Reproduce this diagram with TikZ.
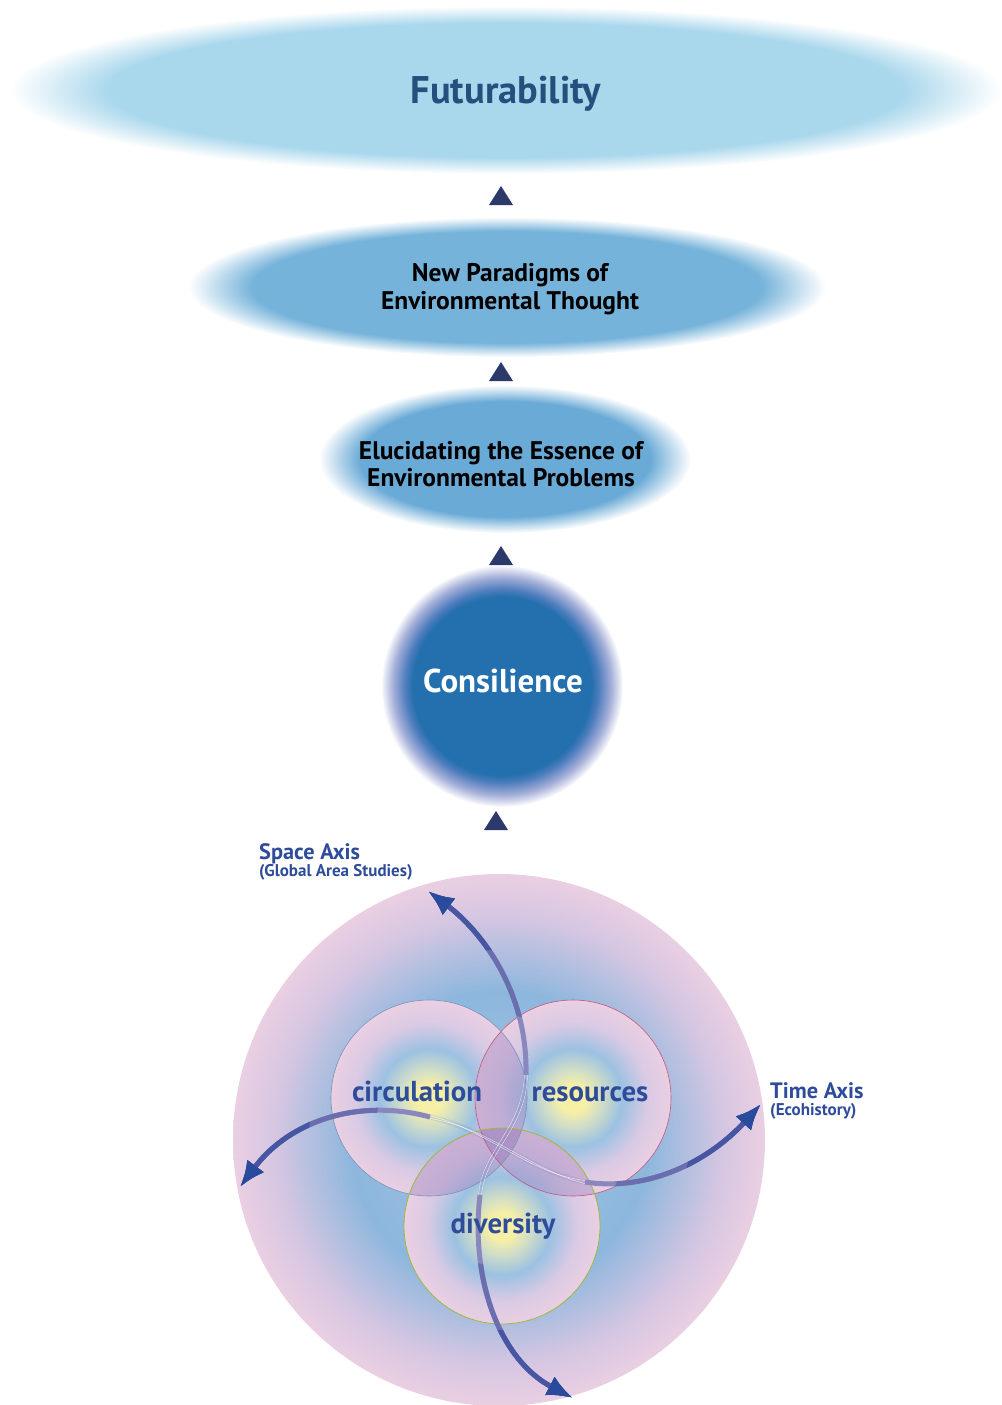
\documentclass[tikz,border=0pt]{standalone}
\usepackage{fontspec}
\setmainfont{PT Sans}
\usetikzlibrary{arrows.meta}
\definecolor{futc}{HTML}{A9D7EC}
\definecolor{futt}{HTML}{25507D}
\definecolor{parc}{HTML}{76B3DA}
\definecolor{eluc}{HTML}{6AAAD6}
\definecolor{conc}{HTML}{2470AE}
\definecolor{conedge0}{HTML}{4F7DBD}
\definecolor{conedge}{HTML}{A3AED8}
\definecolor{conedge2}{HTML}{E4E6F3}
\definecolor{triac}{HTML}{2B3A6B}
\definecolor{pinkc}{HTML}{EACFE2}
\definecolor{pinkmid}{HTML}{D5C6E2}
\definecolor{bluec}{HTML}{8DB7DD}
\definecolor{bigcen}{HTML}{A6C3E3}
\definecolor{yelc}{HTML}{F6EFA6}
\definecolor{yelmid}{HTML}{CFDDC8}
\definecolor{sblue}{HTML}{9CC1E2}
\definecolor{spink}{HTML}{D9CAE4}
\definecolor{lensc}{HTML}{A48AC2}
\definecolor{labc}{HTML}{2E4C9A}
\definecolor{armin}{HTML}{8A86BE}
\definecolor{armc}{HTML}{6A6DAE}
\definecolor{armout}{HTML}{4756A3}
\definecolor{tipc}{HTML}{2A4B9B}
\definecolor{cirl}{HTML}{7C93B8}
\definecolor{resl}{HTML}{C0587E}
\definecolor{divl}{HTML}{9DBA3A}
\pgfdeclareradialshading{futsh}{\pgfpoint{0bp}{0bp}}{color(0bp)=(futc); color(20bp)=(futc); color(25bp)=(white); color(50bp)=(white)}
\pgfdeclareradialshading{parsh}{\pgfpoint{0bp}{0bp}}{color(0bp)=(parc); color(20bp)=(parc); color(25bp)=(white); color(50bp)=(white)}
\pgfdeclareradialshading{elush}{\pgfpoint{0bp}{0bp}}{color(0bp)=(eluc); color(19.5bp)=(eluc); color(25bp)=(white); color(50bp)=(white)}
\pgfdeclareradialshading{consh}{\pgfpoint{0bp}{0bp}}{color(0bp)=(conc); color(18.5bp)=(conc); color(20bp)=(conedge0); color(22.5bp)=(conedge); color(24.3bp)=(conedge2); color(25bp)=(white); color(50bp)=(white)}
\pgfdeclareradialshading{bigsh}{\pgfpoint{0bp}{0bp}}{color(0bp)=(bigcen); color(14bp)=(bluec); color(21bp)=(pinkmid); color(25bp)=(pinkc); color(50bp)=(pinkc)}
\pgfdeclareradialshading{smallsh}{\pgfpoint{0bp}{0bp}}{color(0bp)=(yelc); color(3.5bp)=(yelc); color(7.5bp)=(yelmid); color(12.5bp)=(sblue); color(19bp)=(spink); color(25bp)=(pinkc); color(50bp)=(pinkc)}
\tikzset{
  tri/.style={fill=triac},
  blacktext/.style={text=black, font=\bfseries\fontsize{25.5}{28}\selectfont, align=center, inner sep=0pt},
  circtext/.style={text=labc, font=\bfseries\fontsize{28.8}{30}\selectfont, inner sep=0pt, anchor=base},
  axisbig/.style={text=labc, font=\bfseries\fontsize{22.3}{24}\selectfont, inner sep=0pt, anchor=base west},
  axissmall/.style={text=labc, font=\bfseries\fontsize{17}{19}\selectfont, inner sep=0pt, anchor=base west},
  arm/.style={line width=5pt, -{Latex[length=26pt,width=21pt,color=tipc]}},
  faint/.style={draw=white, line width=0.5pt, opacity=0.7},
  faintbg/.style={draw=armc, line width=5pt, opacity=0.15}
}
\newcommand{\drawarms}[1]{%
  \draw[arm, draw=#1] (upS) .. controls (528,990) and (480,930) .. (upT);
  \draw[arm, draw=#1] (dnS) .. controls (470,1280) and (500,1360) .. (dnT);
  \draw[arm, draw=#1] (lfS) .. controls (360,1098) and (290,1120) .. (lfT);
  \draw[arm, draw=#1] (rtS) .. controls (650,1192) and (710,1160) .. (rtT);
}
\begin{document}
\begin{tikzpicture}[x=1pt,y=-1pt]
\useasboundingbox (0,0) rectangle (1001,1405);
% top ellipses
\shade[shading=futsh] (506,90) ellipse[x radius=496pt, y radius=84pt];
\node[text=futt, font=\bfseries\fontsize{38.5}{40}\selectfont, inner sep=0pt, anchor=base] (fut) at (506,103) {Futurability};
\shade[shading=parsh] (507,287) ellipse[x radius=319pt, y radius=70pt];
\node[blacktext, anchor=base] (par) at (510,281) {New Paradigms of};
\node[blacktext, anchor=base] (par2) at (510,309) {Environmental Thought};
\shade[shading=elush] (505,459) ellipse[x radius=186pt, y radius=74pt];
\node[blacktext, anchor=base] (elu) at (501,459) {Elucidating the Essence of};
\node[blacktext, anchor=base] (elu2) at (501,486) {Environmental Problems};
\shade[shading=consh] (502,686) circle[radius=121pt];
\node[text=white, font=\bfseries\fontsize{33}{36}\selectfont, inner sep=0pt, anchor=base] (con) at (503,692) {Consilience};
% triangles
\coordinate (t1) at (501,196);
\coordinate (t2) at (501,372);
\coordinate (t3) at (501,556);
\coordinate (t4) at (496,821);
\foreach \t in {t1,t2,t3,t4}{
  \fill[tri] ([shift={(-12,9)}]\t) -- ([shift={(12,9)}]\t) -- ([shift={(0,-10)}]\t) -- cycle;
}
% big circle
\coordinate (bigC) at (499,1140);
\shade[shading=bigsh] (bigC) circle[radius=266pt];
\coordinate (cirC) at (429,1098);
\coordinate (resC) at (573,1098);
\coordinate (divC) at (502,1226);
\foreach \c in {cirC,resC,divC}{
  \shade[shading=smallsh] (\c) circle[radius=98pt];
}
% lenses
\begin{scope}
  \clip (cirC) circle[radius=98pt];
  \fill[lensc, opacity=0.45] (resC) circle[radius=98pt];
  \fill[lensc, opacity=0.45] (divC) circle[radius=98pt];
\end{scope}
\begin{scope}
  \clip (resC) circle[radius=98pt];
  \fill[lensc, opacity=0.45] (divC) circle[radius=98pt];
\end{scope}
\draw[cirl, line width=0.6pt] (cirC) circle[radius=98pt];
\draw[resl, line width=0.6pt] (resC) circle[radius=98pt];
\draw[divl, line width=0.8pt] (divC) circle[radius=98pt];
% axes arrows
\coordinate (upS) at (526,1075);
\coordinate (upT) at (428,891);
\coordinate (dnS) at (480,1195);
\coordinate (dnT) at (573,1398);
\coordinate (lfS) at (430,1117);
\coordinate (lfT) at (240,1187);
\coordinate (rtS) at (585,1182);
\coordinate (rtT) at (761,1104);
\draw[faintbg] (upS) .. controls (524,1130) and (484,1150) .. (dnS);
\draw[faintbg] (lfS) .. controls (490,1130) and (530,1172) .. (rtS);
\draw[faint] ([xshift=-1.5]upS) .. controls (522,1130) and (482,1150) .. ([xshift=-1.5]dnS);
\draw[faint] ([xshift=1.5]upS) .. controls (526,1130) and (486,1150) .. ([xshift=1.5]dnS);
\draw[faint] ([yshift=-1.5]lfS) .. controls (490,1128) and (530,1170) .. ([yshift=-1.5]rtS);
\draw[faint] ([yshift=1.5]lfS) .. controls (490,1132) and (530,1174) .. ([yshift=1.5]rtS);
\drawarms{armin}
\begin{scope}[even odd rule]
  \clip (0,0) rectangle (1001,1405) (bigC) circle[radius=125pt];
  \drawarms{armc}
\end{scope}
\begin{scope}[even odd rule]
  \clip (0,0) rectangle (1001,1405) (bigC) circle[radius=190pt];
  \drawarms{armout}
\end{scope}
% circle labels
\node[circtext] (circ) at (417,1101) {circulation};
\node[circtext] (reso) at (590,1101) {resources};
\node[circtext] (dive) at (503,1233) {diversity};
% axis labels
\node[axisbig] (space) at (259,859) {Space Axis};
\node[axissmall] (space2) at (259,876) {(Global Area Studies)};
\node[axisbig] (time) at (770,1098) {Time Axis};
\node[axissmall] (time2) at (770,1115) {(Ecohistory)};
\end{tikzpicture}
\end{document}
